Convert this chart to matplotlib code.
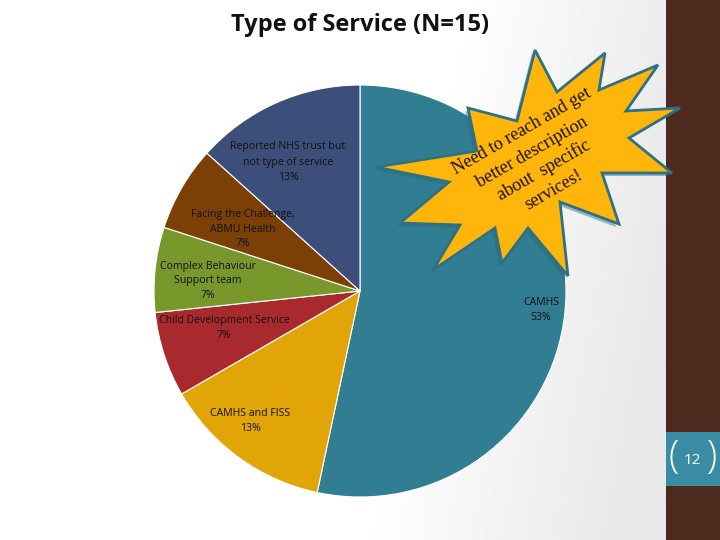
import numpy as np
import matplotlib
matplotlib.use("Agg")
import matplotlib.pyplot as plt
from matplotlib.patches import Polygon, Rectangle

plt.rcParams['font.family'] = ['Open Sans', 'DejaVu Sans']

title = "Type of Service (N=15)"
categories = ["CAMHS", "CAMHS and FISS", "Child Development Service",
              "Complex Behaviour\nSupport team", "Facing the Challenge,\nABMU Health",
              "Reported NHS trust but\nnot type of service"]
counts = [8, 2, 1, 1, 1, 2]
percents = [53, 13, 7, 7, 7, 13]
colors = ["#317D92", "#E2A508", "#A92A2E", "#79982B", "#7C3F06", "#3C4F7B"]
label_xy = [(541, 310), (250, 421), (224, 328), (208, 281), (243, 229), (288, 162)]
star = [(535, 50), (557, 92), (605, 53), (599, 90), (658, 65), (626, 111), (680, 108),
        (629, 138), (672, 173), (602, 173), (619, 224), (560, 202), (568, 276),
        (528, 228), (502, 263), (495, 228), (433, 270), (460, 225), (400, 223),
        (449, 182), (376, 167), (477, 151), (468, 108), (517, 121)]
star_lines = ["Need to reach and get", "better description", "about  specific", "services!"]
star_pos = [(522, 131), (532, 152), (544, 170), (554, 190)]
page_number = "12"

fig = plt.figure(figsize=(7.2, 5.4), dpi=100)
ax = fig.add_axes([0, 0, 1, 1])

# slide background with a soft grey gradient towards the right-hand band
gx = np.linspace(0, 1, 256)
gy = np.linspace(0, 1, 256)
X, Y = np.meshgrid(gx, gy)
G = 1 - 0.09 * np.clip((X + 0.15 * (Y - 0.5) - 0.62) / 0.38, 0, 1)
ax.imshow(G, extent=(0, 666, 540, 0), cmap='gray', vmin=0, vmax=1, zorder=0, aspect='auto')
ax.add_patch(Rectangle((666, 0), 54, 540, fc="#4E2A1E", ec='none', zorder=1))
ax.add_patch(Rectangle((666, 432), 54, 54, fc="#3A8CA5", ec='none', zorder=1))

# pie: y axis is inverted, so counterclock=True runs visually clockwise
ax.pie(counts, colors=colors, center=(360, 291), radius=206, startangle=-90,
       counterclock=True, frame=True,
       wedgeprops=dict(edgecolor='white', linewidth=0.8, zorder=2))
ax.set_xlim(0, 720)
ax.set_ylim(540, 0)
ax.axis('off')
ax.set_aspect('auto')

for cat, v, (x, y) in zip(categories, percents, label_xy):
    ax.text(x, y, f"{cat}\n{v}%", ha='center', va='center', fontsize=7.6, color='#111111',
            linespacing=1.5, zorder=4)

shadow = [(x - 3, y + 3) for x, y in star]
ax.add_patch(Polygon(shadow, closed=True, fc='#2A6A7E', ec='none', alpha=0.45, zorder=2.5))
ax.add_patch(Polygon(star, closed=True, fc='#FFB509', ec='#2E7085', lw=2,
                     joinstyle='miter', zorder=3))
for line, (x, y) in zip(star_lines, star_pos):
    ax.text(x, y, line, rotation=30, rotation_mode='anchor', ha='center', va='center',
            fontsize=13, color='#1A1005', family=['Liberation Serif', 'DejaVu Serif'], zorder=5)

ax.text(360, 25, title, ha='center', va='center', fontsize=17, fontweight='bold',
        color='#111111', zorder=5)

ax.text(692, 460, page_number, ha='center', va='center', fontsize=11, color='white', zorder=5)
ax.text(674, 458, "(", ha='center', va='center', fontsize=27, fontweight='light', color='white', zorder=5)
ax.text(712, 458, ")", ha='center', va='center', fontsize=27, fontweight='light', color='white', zorder=5)

fig.savefig("out.png", dpi=100)
